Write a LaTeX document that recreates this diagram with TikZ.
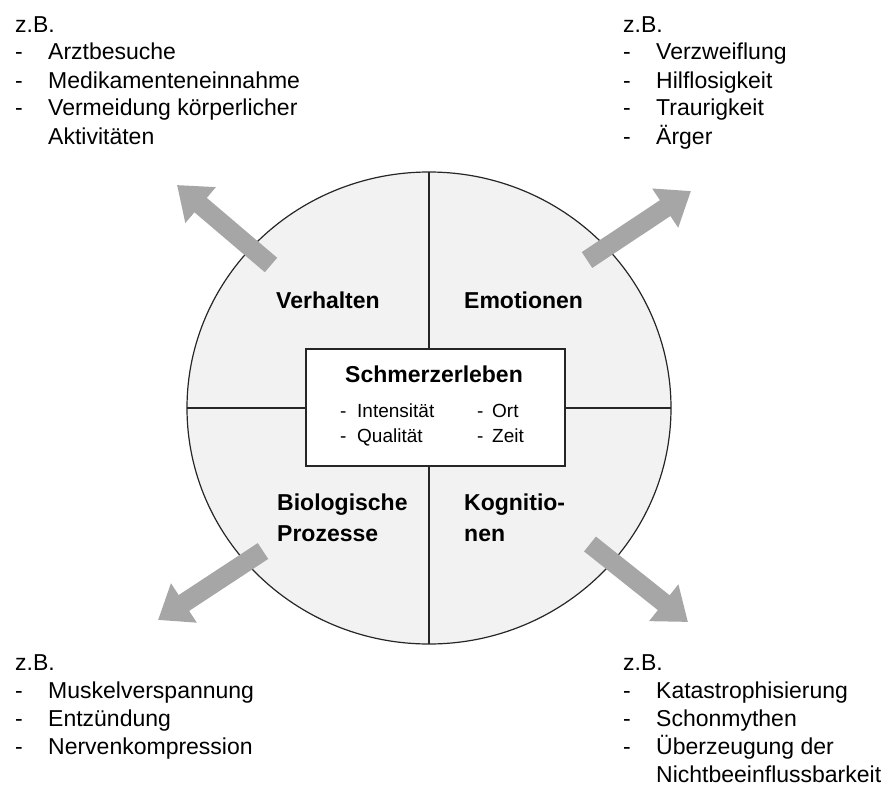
\documentclass[tikz,border=0pt]{standalone}
\usepackage{fontspec}
\setmainfont{Liberation Sans}
\usepackage{array}
\usetikzlibrary{arrows.meta,shapes.geometric,positioning}
\definecolor{arrowgray}{RGB}{166,166,166}
\definecolor{fieldgray}{RGB}{242,242,242}
\tikzset{
  bigarrow/.style={draw=arrowgray, line width=19pt, -{Triangle[length=31pt,width=45pt]}},
  divider/.style={draw=black!85, line width=1.5pt},
  zblist/.style={anchor=base west, inner sep=0pt, font=\fontsize{23}{28}\selectfont},
  quadlabel/.style={anchor=base west, inner sep=0pt, font=\fontsize{23}{31.3}\selectfont\bfseries},
}
\newcommand{\zbliste}[1]{\begin{tabular}[t]{@{}p{33pt}@{}l@{}}\multicolumn{2}{@{}l@{}}{z.B.}\\#1\end{tabular}}

\begin{document}
\begin{tikzpicture}[x=1pt,y=-1pt]
\useasboundingbox (0,0) rectangle (895,787);
\node [ellipse, draw=black!85, fill=fieldgray, line width=1.2pt, minimum width=484pt, minimum height=472pt, inner sep=0pt, outer sep=0pt] (kreis) at (429,408) {};
\node [draw=black!85, fill=white, line width=1.6pt, minimum width=259pt, minimum height=117pt, inner sep=0pt, outer sep=0pt] (schmerz) at (435.5,407.5) {};
\draw [divider] (kreis.north) -- (kreis.north |- schmerz.north);
\draw [divider] (kreis.south) -- (kreis.south |- schmerz.south);
\draw [divider] (kreis.west) -- (kreis.west -| schmerz.west);
\draw [divider] (kreis.east) -- (kreis.east -| schmerz.east);
% Mitte
\node [anchor=base, inner sep=0pt, font=\fontsize{23}{28}\selectfont\bfseries] (titel) at (434,382) {Schmerzerleben};
\node [anchor=base west, inner sep=0pt, font=\fontsize{19}{25}\selectfont] (merkmale) at (340,417) {\begin{tabular}[t]{@{}p{17pt}@{}p{120pt}@{}p{15pt}@{}l@{}}-&Intensität&-&Ort\\-&Qualität&-&Zeit\end{tabular}};
% Quadranten
\node [quadlabel] (verhalten) at (276,308) {Verhalten};
\node [quadlabel] (emotionen) at (464,308) {Emotionen};
\node [quadlabel] (bio) at (277,510) {\begin{tabular}[t]{@{}l@{}}Biologische\\Prozesse\end{tabular}};
\node [quadlabel] (kogn) at (464,510) {\begin{tabular}[t]{@{}l@{}}Kognitio-\\nen\end{tabular}};
% Beispiele
\node [zblist] (verhaltenbsp) at (15,32) {\zbliste{-&Arztbesuche\\-&Medikamenteneinnahme\\-&Vermeidung körperlicher\\&Aktivitäten}};
\node [zblist] (emotionenbsp) at (623,32) {\zbliste{-&Verzweiflung\\-&Hilflosigkeit\\-&Traurigkeit\\-&Ärger}};
\node [zblist] (biobsp) at (15,670) {\zbliste{-&Muskelverspannung\\-&Entzündung\\-&Nervenkompression}};
\node [zblist] (kognbsp) at (623,670) {\zbliste{-&Katastrophisierung\\-&Schonmythen\\-&Überzeugung der\\&Nichtbeeinflussbarkeit}};
% Pfeile
\coordinate (verhaltenfuss) at (271,265); \coordinate (verhaltenspitze) at (177,185);
\coordinate (emotionenfuss) at (587,260); \coordinate (emotionenspitze) at (691,191);
\coordinate (biofuss) at (263,551); \coordinate (biospitze) at (158,620);
\coordinate (kognfuss) at (590,544); \coordinate (kognspitze) at (688,622);
\draw [bigarrow] (verhaltenfuss) -- (verhaltenspitze);
\draw [bigarrow] (emotionenfuss) -- (emotionenspitze);
\draw [bigarrow] (biofuss) -- (biospitze);
\draw [bigarrow] (kognfuss) -- (kognspitze);
\end{tikzpicture}
\end{document}
